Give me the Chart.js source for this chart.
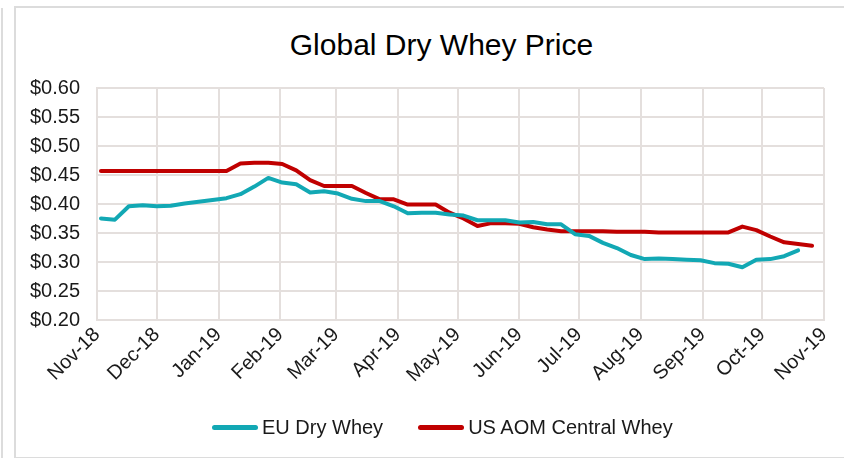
<!DOCTYPE html>
<html lang="en">
<head>
    <meta charset="UTF-8">
    <title>Global Dry Whey Price</title>
    <script src="https://cdn.jsdelivr.net/npm/chart.js"></script>
    <style>
        body {
            margin: 0;
            background: #fff;
            font-family: "Liberation Sans", Arial, sans-serif;
        }
        .page {
            position: relative;
            width: 844px;
            height: 458px;
            overflow: hidden;
        }
        .edge {
            position: absolute;
            left: 1px;
            top: 8px;
            width: 0;
            height: 460px;
            border-left: 2px solid #dcdcdc;
        }
        .frame {
            position: absolute;
            left: 14px;
            top: 6px;
            width: 840px;
            height: 449px;
            border: 2px solid #dcdcdc;
        }
        .title {
            position: absolute;
            left: 0;
            top: 27px;
            width: 883px;
            text-align: center;
            font-size: 30px;
            line-height: 36px;
            color: #000;
            white-space: nowrap;
        }
        #chart {
            position: absolute;
            left: 0;
            top: 0;
        }
        .legend {
            position: absolute;
            left: 212px;
            top: 416px;
            display: flex;
            align-items: center;
            font-size: 20px;
            color: #1a1a1a;
            white-space: nowrap;
        }
        .legend .item {
            display: flex;
            align-items: center;
        }
        .legend .item + .item {
            margin-left: 35px;
        }
        .legend .swatch {
            width: 46px;
            height: 5px;
            border-radius: 3px;
            margin-right: 4px;
        }
    </style>
</head>
<body>
    <div class="page">
        <div class="edge"></div>
        <div class="frame"></div>
        <div class="title">Global Dry Whey Price</div>
        <canvas id="chart" width="844" height="458"></canvas>
        <div class="legend" id="legend"></div>
    </div>
    <script>
        // weekly observation dates
        const weekDates = [
            "2018-11-03", "2018-11-10", "2018-11-17", "2018-11-24",
            "2018-12-01", "2018-12-08", "2018-12-15", "2018-12-22", "2018-12-29",
            "2019-01-05", "2019-01-12", "2019-01-19", "2019-01-26",
            "2019-02-02", "2019-02-09", "2019-02-16", "2019-02-23",
            "2019-03-02", "2019-03-09", "2019-03-16", "2019-03-23", "2019-03-30",
            "2019-04-06", "2019-04-13", "2019-04-20", "2019-04-27",
            "2019-05-04", "2019-05-11", "2019-05-18", "2019-05-25",
            "2019-06-01", "2019-06-08", "2019-06-15", "2019-06-22", "2019-06-29",
            "2019-07-06", "2019-07-13", "2019-07-20", "2019-07-27",
            "2019-08-03", "2019-08-10", "2019-08-17", "2019-08-24", "2019-08-31",
            "2019-09-07", "2019-09-14", "2019-09-21", "2019-09-28",
            "2019-10-05", "2019-10-12", "2019-10-19", "2019-10-26"
        ];

        const euDryWhey = [
            0.375, 0.373, 0.396, 0.398, 0.396, 0.397, 0.401, 0.404, 0.407, 0.410,
            0.417, 0.430, 0.445, 0.437, 0.434, 0.420, 0.422, 0.418, 0.409, 0.405,
            0.405, 0.396, 0.384, 0.385, 0.385, 0.382, 0.380, 0.372, 0.372, 0.372,
            0.368, 0.369, 0.365, 0.365, 0.348, 0.345, 0.333, 0.324, 0.312, 0.305,
            0.306, 0.305, 0.304, 0.303, 0.298, 0.297, 0.291, 0.304, 0.305, 0.310,
            0.320, null
        ];

        const usCentralWhey = [
            0.457, 0.457, 0.457, 0.457, 0.457, 0.457, 0.457, 0.457, 0.457, 0.457,
            0.470, 0.471, 0.471, 0.469, 0.458, 0.441, 0.431, 0.431, 0.431, 0.419,
            0.408, 0.408, 0.399, 0.399, 0.399, 0.385, 0.375, 0.362, 0.367, 0.367,
            0.366, 0.360, 0.356, 0.353, 0.353, 0.353, 0.353, 0.352, 0.352, 0.352,
            0.351, 0.351, 0.351, 0.351, 0.351, 0.351, 0.361, 0.355, 0.344, 0.334,
            0.331, 0.328
        ];

        const seriesNames = ["EU Dry Whey", "US AOM Central Whey"];
        const seriesColors = ["#12a8b4", "#c00000"];

        const monthTicks = [
            "2018-11-01", "2018-12-01", "2019-01-01", "2019-02-01", "2019-03-01",
            "2019-04-01", "2019-05-01", "2019-06-01", "2019-07-01", "2019-08-01",
            "2019-09-01", "2019-10-01", "2019-11-01"
        ];
        const monthLabels = [
            "Nov-18", "Dec-18", "Jan-19", "Feb-19", "Mar-19", "Apr-19", "May-19",
            "Jun-19", "Jul-19", "Aug-19", "Sep-19", "Oct-19", "Nov-19"
        ];

        const DAY = 86400000;
        const origin = Date.parse(monthTicks[0]);
        const toDay = s => Math.round((Date.parse(s) - origin) / DAY);
        const tickDays = monthTicks.map(toDay);

        const toPoints = values => weekDates.map((d, i) => ({ x: toDay(d), y: values[i] }));

        const gridColor = "#e4dfdd";
        const textColor = "#1a1a1a";
        const fontFamily = "'Liberation Sans', Arial, sans-serif";

        const chart = new Chart(document.getElementById("chart"), {
            type: "line",
            data: {
                datasets: [euDryWhey, usCentralWhey].map((values, i) => ({
                    label: seriesNames[i],
                    data: toPoints(values),
                    borderColor: seriesColors[i],
                    backgroundColor: seriesColors[i],
                    borderWidth: 4,
                    pointRadius: 0,
                    tension: 0,
                    borderJoinStyle: "round",
                    borderCapStyle: "round",
                    spanGaps: false
                }))
            },
            options: {
                responsive: false,
                animation: false,
                devicePixelRatio: 1,
                // title and legend are html, so the plot box is set by padding
                layout: { padding: { left: 0, right: 19, top: 88, bottom: 0 } },
                plugins: {
                    legend: { display: false },
                    tooltip: { enabled: false },
                    title: { display: false }
                },
                scales: {
                    x: {
                        type: "linear",
                        min: tickDays[0],
                        max: tickDays[tickDays.length - 1],
                        afterBuildTicks: scale => {
                            scale.ticks = tickDays.map(v => ({ value: v }));
                        },
                        afterFit: scale => { scale.height = 138; },
                        grid: { color: gridColor, lineWidth: 2, drawTicks: false },
                        border: { color: gridColor, width: 2 },
                        ticks: {
                            autoSkip: false,
                            minRotation: 45,
                            maxRotation: 45,
                            padding: 3,
                            color: textColor,
                            font: { family: fontFamily, size: 20 },
                            callback: (v, i) => monthLabels[i]
                        }
                    },
                    y: {
                        min: 0.2,
                        max: 0.6,
                        afterFit: scale => { scale.width = 97; },
                        grid: { color: gridColor, lineWidth: 2, drawTicks: false },
                        border: { color: gridColor, width: 2 },
                        ticks: {
                            stepSize: 0.05,
                            padding: 17,
                            color: textColor,
                            font: { family: fontFamily, size: 20 },
                            callback: v => "$" + v.toFixed(2)
                        }
                    }
                }
            }
        });

        // html legend from the chart's datasets
        const legendEl = document.getElementById("legend");
        chart.data.datasets.forEach(ds => {
            const item = document.createElement("div");
            item.className = "item";
            const sw = document.createElement("span");
            sw.className = "swatch";
            sw.style.background = ds.borderColor;
            const label = document.createElement("span");
            label.textContent = ds.label;
            item.appendChild(sw);
            item.appendChild(label);
            legendEl.appendChild(item);
        });
    </script>
</body>
</html>
